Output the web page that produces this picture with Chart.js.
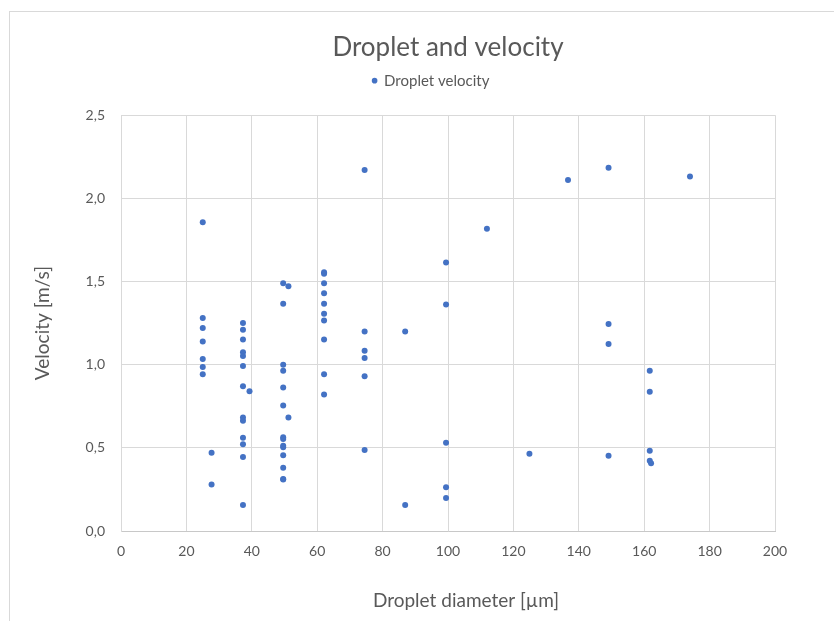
<!DOCTYPE html>
<html>
<head>
<meta charset="utf-8">
<title>Droplet and velocity</title>
<style>
  html, body { margin: 0; padding: 0; background: #fff; overflow: hidden; }
  #wrap { position: relative; width: 834px; height: 621px; }
  #frame { position: absolute; left: 9px; top: 11px; width: 900px; height: 700px; border: 1px solid #d9d9d9; }
  #chart { position: absolute; left: 0; top: 0; }
</style>
</head>
<body>
<div id="wrap">
  <div id="frame"></div>
  <canvas id="chart" width="834" height="621"></canvas>
</div>
<script src="https://cdn.jsdelivr.net/npm/chart.js"></script>
<script>
// droplet diameter [µm] and measured velocity [m/s], one entry per droplet
const diameters = [
  25, 25, 25, 25, 25, 25, 25,
  27.7, 27.7,
  37.3, 37.3, 37.3, 37.3, 37.3, 37.3, 37.3, 37.3, 37.3, 37.3, 37.3, 37.3, 37.3,
  39.3,
  49.6, 49.6, 49.6, 49.6, 49.6, 49.6, 49.6, 49.6, 49.6, 49.6, 49.6, 49.6, 49.6, 49.6,
  51.2, 51.2,
  62.1, 62.1, 62.1, 62.1, 62.1, 62.1, 62.1, 62.1, 62.1, 62.1,
  74.5, 74.5, 74.5, 74.5, 74.5, 74.5,
  86.9, 86.9,
  99.4, 99.4, 99.4, 99.4, 99.4,
  111.9,
  124.9,
  136.7,
  149.1, 149.1, 149.1, 149.1,
  161.7, 161.7, 161.7, 161.7, 162.1,
  174
];
const velocities = [
  1.857, 1.28, 1.22, 1.14, 1.034, 0.986, 0.943,
  0.47, 0.28,
  1.25, 1.21, 1.152, 1.074, 1.052, 0.992, 0.87, 0.683, 0.663, 0.561, 0.521, 0.445, 0.156,
  0.84,
  1.49, 1.366, 1.0, 0.963, 0.863, 0.755, 0.563, 0.553, 0.513, 0.503, 0.455, 0.38, 0.3125, 0.31,
  1.472, 0.683,
  1.556, 1.546, 1.49, 1.43, 1.366, 1.306, 1.266, 1.152, 0.943, 0.821,
  2.171, 1.2, 1.084, 1.04, 0.931, 0.487,
  1.2, 0.156,
  1.615, 1.362, 0.531, 0.263, 0.198,
  1.817,
  0.465,
  2.111,
  2.184, 1.244, 1.124, 0.453,
  0.963, 0.837, 0.483, 0.423, 0.407,
  2.131
];
const xTicks = [0, 20, 40, 60, 80, 100, 120, 140, 160, 180, 200];
const yTicks = [0, 0.5, 1.0, 1.5, 2.0, 2.5];

const FONT = "Lato";
const TEXT = "#595959";
const GRID = "#d9d9d9";

const points = diameters.map((d, i) => ({ x: d, y: velocities[i] }));

// leave a gap under the legend, nudge it a little left of the plot centre,
// and push the x axis title slightly right
const placement = {
  id: "placement",
  beforeLayout(chart) {
    const lg = chart.legend;
    if (lg && !lg._gapPatched) {
      const fit = lg.fit.bind(lg);
      lg.fit = function () { fit(); this.height += 17; };
      lg._gapPatched = true;
    }
  },
  afterLayout(chart) {
    const lg = chart.legend;
    if (lg) { lg.left -= 17; lg.right -= 17; }
    const xs = chart.scales.x;
    if (xs && !xs._titlePatched) {
      const drawTitle = xs.drawTitle.bind(xs);
      xs.drawTitle = function () {
        const ctx = this.ctx;
        ctx.save();
        ctx.translate(18, 0);
        drawTitle();
        ctx.restore();
      };
      xs._titlePatched = true;
    }
  }
};

new Chart(document.getElementById("chart"), {
  type: "scatter",
  data: {
    datasets: [{
      label: "Droplet velocity",
      data: points,
      backgroundColor: "#4472c4",
      borderColor: "#4472c4",
      pointRadius: 3,
      pointBorderWidth: 0,
      pointHoverRadius: 3
    }]
  },
  options: {
    responsive: false,
    animation: false,
    events: [],
    layout: { padding: { left: 28, right: 59, top: 32, bottom: 5 } },
    plugins: {
      title: {
        display: true,
        fullSize: false,
        text: "Droplet and velocity",
        color: TEXT,
        font: { family: FONT, size: 26, weight: "normal" },
        padding: { top: 0, bottom: 0 }
      },
      legend: {
        display: true,
        fullSize: false,
        position: "top",
        labels: {
          usePointStyle: true,
          pointStyle: "circle",
          boxWidth: 4,
          boxHeight: 4,
          color: TEXT,
          font: { family: FONT, size: 15 }
        }
      },
      tooltip: { enabled: false }
    },
    scales: {
      x: {
        type: "linear",
        min: xTicks[0],
        max: xTicks[xTicks.length - 1],
        afterBuildTicks: s => { s.ticks = xTicks.map(v => ({ value: v })); },
        afterFit: s => { s.height = 85; },
        grid: { color: GRID, drawTicks: false },
        border: { color: "#c8c8c8" },
        ticks: { color: TEXT, padding: 12, font: { family: FONT, size: 14 } },
        title: {
          display: true,
          text: "Droplet diameter [µm]",
          color: TEXT,
          font: { family: FONT, size: 19 },
          padding: { top: 4, bottom: 4 }
        }
      },
      y: {
        type: "linear",
        min: yTicks[0],
        max: yTicks[yTicks.length - 1],
        afterBuildTicks: s => { s.ticks = yTicks.map(v => ({ value: v })); },
        afterFit: s => { s.width = 93; },
        grid: { color: GRID, drawTicks: false },
        border: { color: GRID },
        ticks: {
          color: TEXT,
          padding: 16,
          font: { family: FONT, size: 14 },
          callback: v => v.toFixed(1).replace(".", ",")
        },
        title: {
          display: true,
          text: "Velocity [m/s]",
          color: TEXT,
          font: { family: FONT, size: 19 },
          padding: { top: 3, bottom: 4 }
        }
      }
    }
  },
  plugins: [placement]
});
</script>
</body>
</html>
